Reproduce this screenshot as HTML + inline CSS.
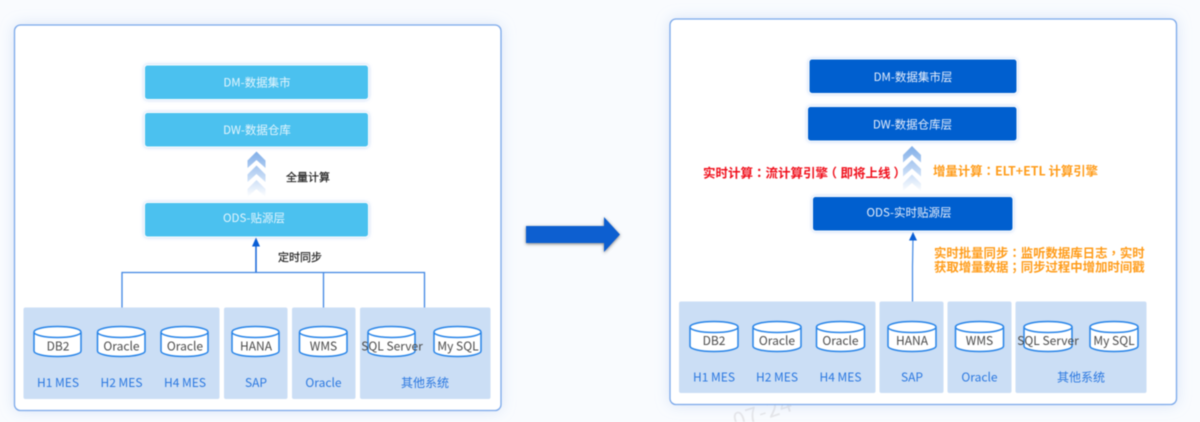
<!DOCTYPE html>
<html><head><meta charset="utf-8">
<style>
html,body{margin:0;padding:0;width:1200px;height:422px;overflow:hidden;background:#f9fbfe}
svg{display:block;filter:blur(.45px)}
text{font-family:"Noto Sans CJK SC","Liberation Sans",sans-serif}
.b{font-size:11.500px;fill:#e4f5fd;text-anchor:middle}
.r{font-size:11.500px;fill:#e6eefb;text-anchor:middle}
.c{font-size:12px;fill:#4a4a4a;text-anchor:middle}
.l{font-size:12px;fill:#2b78e0;text-anchor:middle}
.k{font-size:11px;fill:#222;stroke:#222;stroke-width:.2}
.o,.d{font-family:"Noto Sans CJK TC","Liberation Sans",sans-serif;font-size:12.400px;font-weight:bold}
.o{fill:#ff9c1a}
.d{fill:#f0101c;font-size:12.500px}
.cy{fill:#fff;stroke:#2784e8;stroke-width:1.500}
</style></head><body>
<svg width="1200" height="422" viewBox="0 0 1200 422" xmlns="http://www.w3.org/2000/svg">
<defs>
<linearGradient id="g1" gradientUnits="userSpaceOnUse" x1="0" y1="151" x2="0" y2="197"><stop offset="0" stop-color="#80aee8"/><stop offset=".5" stop-color="#bdd5f4"/><stop offset="1" stop-color="#ffffff"/></linearGradient>
<linearGradient id="g2" gradientUnits="userSpaceOnUse" x1="0" y1="146" x2="0" y2="192"><stop offset="0" stop-color="#80aee8"/><stop offset=".5" stop-color="#bdd5f4"/><stop offset="1" stop-color="#ffffff"/></linearGradient>
<filter id="s" x="-10%" y="-10%" width="120%" height="120%"><feDropShadow dx="0" dy="0" stdDeviation="7" flood-color="#a9c4ee" flood-opacity=".4"/></filter>
<filter id="sa" x="-10%" y="-20%" width="120%" height="140%"><feDropShadow dx="0" dy="1" stdDeviation="1.500" flood-color="#444" flood-opacity=".7"/></filter>
<filter id="sb" x="-10%" y="-30%" width="120%" height="160%"><feDropShadow dx="0" dy="0" stdDeviation="1.800" flood-color="#9fc0f0" flood-opacity=".75"/></filter>
</defs>
<rect width="1200" height="422" fill="#f9fbfe"/>

<!-- left panel -->
<rect x="14.500" y="25" width="486.500" height="385.500" rx="6" fill="#fff" stroke="#7aa8ea" stroke-width="1.300" filter="url(#s)"/>
<g filter="url(#sb)" fill="#4bc1ef" stroke="#fff" stroke-width="1">
<rect x="144.500" y="65" width="224" height="34.500" rx="3"/>
<rect x="144.500" y="112.500" width="224" height="34.500" rx="3"/>
<rect x="144.500" y="202.500" width="224" height="34.500" rx="3"/>
</g>
<text class="b" x="257" y="86.500">DM-数据集市</text>
<text class="b" x="257" y="134">DW-数据仓库</text>
<text class="b" x="254" y="222">ODS-贴源层</text>
<path fill="url(#g1)" d="M256.500 151.500L265.500 160.500V168L256.500 160L247.500 168V160.500Z"/>
<path fill="url(#g1)" d="M256.500 165.500L265.500 174.500V182L256.500 174L247.500 182V174.500Z"/>
<path fill="url(#g1)" d="M256.500 180L265.500 189V197L256.500 189L247.500 197V189Z"/>
<text class="k" x="286" y="181">全量计算</text>
<text class="k" x="278" y="261">定时同步</text>
<path d="M122 307.500V272.500H424.500V307.500M323.500 272.500V307.500" fill="none" stroke="#3f86e3" stroke-width="1.300"/>
<path d="M256 272V244" stroke="#1565d8" stroke-width="1.500" fill="none"/>
<path d="M256 237.500L260 246.500H252Z" fill="#0a5fd6"/>
<g fill="#cbdef5">
<rect x="23.500" y="307.500" width="196" height="91.500" rx="2"/>
<rect x="224" y="307.500" width="63.500" height="91.500" rx="2"/>
<rect x="292" y="307.500" width="63.500" height="91.500" rx="2"/>
<rect x="360" y="307.500" width="130.500" height="91.500" rx="2"/>
</g>
<g class="cy">
<path d="M34 332v19c0 3 10 5.500 23.500 5.500s23.500-2.500 23.500-5.500v-19c0-3-10-5.500-23.500-5.500S34 329 34 332c0 3 10 5.500 23.500 5.500S81 335 81 332"/>
<path d="M97.500 332v19c0 3 10 5.500 23.500 5.500s24-2.500 24-5.500v-19c0-3-10.500-5.500-24-5.500S97.500 329 97.500 332c0 3 10 5.500 23.500 5.500S145 335 145 332"/>
<path d="M161 332v19c0 3 10 5.500 23.500 5.500s23.500-2.500 23.500-5.500v-19c0-3-10-5.500-23.500-5.500S161 329 161 332c0 3 10 5.500 23.500 5.500S208 335 208 332"/>
<path d="M232 332v19c0 3 10 5.500 23.500 5.500s23.500-2.500 23.500-5.500v-19c0-3-10-5.500-23.500-5.500S232 329 232 332c0 3 10 5.500 23.500 5.500S279 335 279 332"/>
<path d="M299.500 332v19c0 3 10 5.500 23.500 5.500s24-2.500 24-5.500v-19c0-3-10.500-5.500-24-5.500S299.500 329 299.500 332c0 3 10 5.500 23.500 5.500S347 335 347 332"/>
<path d="M368 332v19c0 3 10 5.500 23.500 5.500s23.500-2.500 23.500-5.500v-19c0-3-10-5.500-23.500-5.500S368 329 368 332c0 3 10 5.500 23.500 5.500S415 335 415 332"/>
<path d="M434 332v19c0 3 10 5.500 23.500 5.500s23.500-2.500 23.500-5.500v-19c0-3-10-5.500-23.500-5.500S434 329 434 332c0 3 10 5.500 23.500 5.500S481 335 481 332"/>
</g>
<text class="c" x="58" y="350.500">DB2</text>
<text class="c" x="121.500" y="350.500">Oracle</text>
<text class="c" x="185" y="350.500">Oracle</text>
<text class="c" x="256" y="350.500">HANA</text>
<text class="c" x="323.500" y="350.500">WMS</text>
<text class="c" x="392" y="350.500">SQL Server</text>
<text class="c" x="458" y="350.500">My SQL</text>
<text class="l" x="58" y="387">H1 MES</text>
<text class="l" x="121.500" y="387">H2 MES</text>
<text class="l" x="185" y="387">H4 MES</text>
<text class="l" x="256" y="387">SAP</text>
<text class="l" x="323.500" y="387">Oracle</text>
<text class="l" x="425" y="387">其他系统</text>

<!-- big arrow -->
<path d="M526 226H604V217L620 234.500L604 252V243H526Z" fill="#0a5fd0" filter="url(#sa)"/>

<!-- right panel -->
<text x="736" y="429" font-size="22px" letter-spacing="1" fill="#e6e6e9" transform="rotate(-18 736 429)">07-24</text>
<rect x="670" y="19" width="506.500" height="385.500" rx="6" fill="#fff" stroke="#7aa8ea" stroke-width="1.300" filter="url(#s)"/>
<g filter="url(#sb)" fill="#025fcf" stroke="#fff" stroke-width="1">
<rect x="809" y="59" width="208" height="34.500" rx="3"/>
<rect x="807.500" y="106.500" width="209.500" height="34.500" rx="3"/>
<rect x="812.500" y="196.500" width="200.500" height="34.500" rx="3"/>
</g>
<text class="r" x="913" y="81">DM-数据集市层</text>
<text class="r" x="912.500" y="128.500">DW-数据仓库层</text>
<text class="r" x="909" y="216.500">ODS-实时贴源层</text>
<path fill="url(#g2)" d="M912 146L921 155V162.500L912 154.500L903 162.500V155Z"/>
<path fill="url(#g2)" d="M912 160L921 169V176.500L912 168.500L903 176.500V169Z"/>
<path fill="url(#g2)" d="M912 174.500L921 183.500V191L912 183L903 191V183.500Z"/>
<text class="d" x="703" y="177.500">实时计算：流计算引擎<tspan dx="-3.500">（</tspan><tspan dx="3.500">即将上线</tspan><tspan dx="3">）</tspan></text>
<text class="o" x="933" y="175.500">增量计算：ELT+ETL 计算引擎</text>
<text class="o" x="934" y="257.500">实时批量同步：监听数据库日志，实时</text>
<text class="o" x="934" y="271.500">获取增量数据；同步过程中增加时间戳</text>
<path d="M912.500 301.500V266L913 238" stroke="#3f86e3" stroke-width="1.200" fill="none"/>
<path d="M913 232L917 240.500H909Z" fill="#0a5fd6"/>
<g fill="#cbdef5">
<rect x="679" y="301.500" width="196.500" height="91.500" rx="2"/>
<rect x="879.500" y="301.500" width="64" height="91.500" rx="2"/>
<rect x="947.500" y="301.500" width="64" height="91.500" rx="2"/>
<rect x="1015.500" y="301.500" width="131" height="91.500" rx="2"/>
</g>
<g class="cy">
<path d="M690 327v19c0 3 10 5.500 24 5.500s24-2.500 24-5.500v-19c0-3-10.500-5.500-24-5.500S690 324 690 327c0 3 10 5.500 24 5.500S738 330 738 327"/>
<path d="M753 327v19c0 3 10 5.500 24 5.500s24-2.500 24-5.500v-19c0-3-10.500-5.500-24-5.500S753 324 753 327c0 3 10 5.500 24 5.500S801 330 801 327"/>
<path d="M816.500 327v19c0 3 10 5.500 24 5.500s24-2.500 24-5.500v-19c0-3-10.500-5.500-24-5.500S816.500 324 816.500 327c0 3 10 5.500 24 5.500S864.500 330 864.500 327"/>
<path d="M888 327v19c0 3 10 5.500 24 5.500s24-2.500 24-5.500v-19c0-3-10.500-5.500-24-5.500S888 324 888 327c0 3 10 5.500 24 5.500S936 330 936 327"/>
<path d="M955.500 327v19c0 3 10 5.500 24 5.500s24-2.500 24-5.500v-19c0-3-10.500-5.500-24-5.500S955.500 324 955.500 327c0 3 10 5.500 24 5.500S1003.500 330 1003.500 327"/>
<path d="M1024 327v19c0 3 10 5.500 24 5.500s24-2.500 24-5.500v-19c0-3-10.500-5.500-24-5.500S1024 324 1024 327c0 3 10 5.500 24 5.500S1072 330 1072 327"/>
<path d="M1090 327v19c0 3 10 5.500 24 5.500s24-2.500 24-5.500v-19c0-3-10.500-5.500-24-5.500S1090 324 1090 327c0 3 10 5.500 24 5.500S1138 330 1138 327"/>
</g>
<text class="c" x="714" y="345">DB2</text>
<text class="c" x="777" y="345">Oracle</text>
<text class="c" x="840.500" y="345">Oracle</text>
<text class="c" x="912" y="345">HANA</text>
<text class="c" x="979.500" y="345">WMS</text>
<text class="c" x="1048" y="345">SQL Server</text>
<text class="c" x="1114" y="345">My SQL</text>
<text class="l" x="714" y="381.500">H1 MES</text>
<text class="l" x="777" y="381.500">H2 MES</text>
<text class="l" x="840.500" y="381.500">H4 MES</text>
<text class="l" x="912" y="381.500">SAP</text>
<text class="l" x="979.500" y="381.500">Oracle</text>
<text class="l" x="1081" y="381.500">其他系统</text>
</svg>
</body></html>
